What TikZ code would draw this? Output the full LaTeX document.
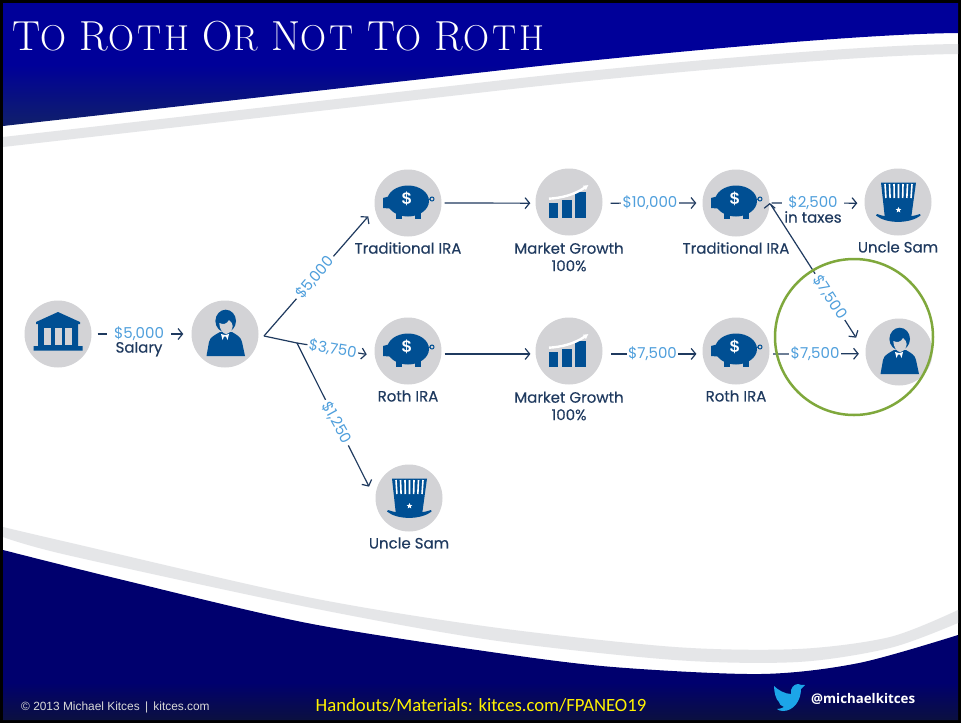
\documentclass[tikz,border=0pt]{standalone}
\usepackage{fontspec}
\setmainfont{Poppins}
\newfontfamily\captionfont{Poppins}[FakeBold=0.25]
\newfontfamily\titlefont{Latin Modern Roman}[LetterSpace=8]
\newfontfamily\arialfont{Liberation Sans}
\newfontfamily\calibrifont{Carlito}
\newfontfamily\handlefont{Open Sans}
\usetikzlibrary{arrows.meta,positioning,shapes.geometric}
\definecolor{iconblue}{HTML}{004F93}
\definecolor{discgrey}{HTML}{D3D3D6}
\definecolor{inkblue}{HTML}{1F3A5F}
\definecolor{moneyblue}{HTML}{4F9FDC}
\definecolor{bandgrey}{HTML}{E5E6E8}
\definecolor{ringgreen}{HTML}{7FA83C}
\definecolor{birdblue}{HTML}{1CA5E8}
\definecolor{topblue}{HTML}{000099}
\definecolor{topdark}{HTML}{10206A}
\definecolor{lowblue}{HTML}{00006E}
\definecolor{lowdark}{HTML}{0B1040}
\pgfdeclareverticalshading{topband}{100bp}{color(0bp)=(topdark); color(25bp)=(topdark); color(50bp)=(topblue); color(100bp)=(topblue)}
\pgfdeclareverticalshading{lowband}{100bp}{color(0bp)=(lowdark); color(25bp)=(lowdark); color(36bp)=(lowblue); color(100bp)=(lowblue)}
\newcommand{\bigcapsize}{\fontsize{42}{42}\selectfont}
\newcommand{\lowcapsize}{\fontsize{36}{36}\selectfont}
\tikzset{
    disc/.style={
    circle,fill=discgrey,minimum size=67pt,inner sep=0pt
    },
    caption/.style={
    text=inkblue,font=\captionfont\fontsize{15}{17.5}\selectfont,align=center
    },
    amount/.style={
    text=moneyblue,fill=white,font=\fontsize{15}{17}\selectfont,inner sep=1.5pt
    },
    flow/.style={
    draw=inkblue,line width=1.2pt,-{Straight Barb[length=4.5pt,width=11pt]}
    },
    plain/.style={
    draw=inkblue,line width=1.2pt
    },
    piggy/.pic={
    \fill[iconblue] (0,-2) ellipse (21 and 15.5);
    \fill[iconblue] (-25,-5) -- (-14,-8) -- (-12,6) -- (-25,5) -- cycle;
    \fill[iconblue] (-12,9) rectangle (-6,16);
    \fill[iconblue] (7,9) rectangle (13,16);
    \draw[iconblue,line width=1pt] (19,-3) -- (22,-4) (24,-4) circle (2);
    \node[text=white,font=\arialfont\bfseries\fontsize{17}{17}\selectfont] (dollar) at (-1.5,-4) {\$};
    },
    bank/.pic={
    \fill[iconblue] (0,-22) -- (22,-12) -- (22,-10) -- (20,-10) -- (20,12) -- (24.5,12) -- (24.5,16.5)
      -- (-24.5,16.5) -- (-24.5,12) -- (-20,12) -- (-20,-10) -- (-22,-10) -- (-22,-12) -- cycle;
    \foreach \wx in {-14,-3.5,7}
      \fill[discgrey] (\wx,-6.5) rectangle ++(7,17);
    },
    person/.pic={
    \fill[iconblue] (-18.5,22) -- (-16,8) .. controls (-15,3) and (-10,1) .. (-5,-2) -- (7,-2)
      .. controls (12,1) and (16,3) .. (17,8) -- (20,22) -- cycle;
    \fill[iconblue] (.7,-13) ellipse (10.3 and 11.3);
    \fill[discgrey] (-5.7,-11) .. controls (-2,-9) and (2,-10) .. (4,-14) .. controls (6,-12) and (7.7,-11) .. (7.7,-8)
      .. controls (7.7,-4) and (4,0) .. (1,0) .. controls (-2,0) and (-5.7,-5) .. (-5.7,-11);
    \fill[white] (-4,0) -- (0,1) -- (4,0) -- (2.5,6) -- (1,2.5) -- (-1,2.5) -- (-2.5,6) -- cycle;
    },
    chart/.pic={
    \fill[iconblue] (-20,1) rectangle (-11.3,16);
    \fill[iconblue] (-6.7,-2.3) rectangle (2.7,16);
    \fill[iconblue] (6,-10) rectangle (16.7,16);
    \draw[white,line width=2.4pt,-{Latex[length=5pt,width=6pt]}] (-20,-3.3) .. controls (-8,-4) and (5,-7) .. (19.5,-17);
    },
    hat/.pic={
    \fill[iconblue] (-17,-19.5) -- (18,-19.5) -- (13,17) -- (-13,17) -- cycle;
    \fill[iconblue] (-21,12) .. controls (-12,16) and (12,16) .. (22,12) -- (22.5,13.5)
      .. controls (12,22) and (-12,22) .. (-22,13.5) -- cycle;
    \foreach \sx in {-13,-8.5,-4,.5,5,9.5,14}
      \draw[white,line width=1.6pt] (\sx,-18) -- (.93*\sx,-4);
    \node[star,star points=5,star point ratio=2.3,fill=white,minimum size=6pt,inner sep=0pt] (badge) at (.5,8) {};
    },
}
\begin{document}
\begin{tikzpicture}[x=1pt,y=-1pt,on grid]
  \useasboundingbox (0,0) rectangle (961,723);
  \fill[black] (0,0) rectangle (961,723);
  \fill[white] (3,3) rectangle (958,720);
  \shade[shading=topband]
    (3,3) -- (958,3) -- (958,33) .. controls (850,34) and (621,57) .. (521,68) -- (3,126) -- cycle;
  \fill[bandgrey] (3,137) -- (521,78) .. controls (621,67) and (850,45) .. (958,44) -- (958,54)
    .. controls (850,55) and (621,77) .. (521,88) -- (3,147) -- cycle;
  \fill[bandgrey] plot[smooth] coordinates {(3,527) (67,542) (307,597) (491,627) (675,647) (798,649) (890,637) (958,610)}
    -- plot[smooth] coordinates {(958,623) (890,648) (798,662) (675,660) (491,640) (307,607) (67,555) (3,537)} -- cycle;
  \shade[shading=lowband]
    plot[smooth] coordinates {(3,550) (123,580) (307,623) (491,652) (613,667) (761,674) (859,663) (958,635)}
    -- (958,720) -- (3,720) -- cycle;

  \node[disc] (bank) at (58,334) {};
  \node[disc] (saver) at (225,334) {};
  \node[disc] (tradpig) at (408,203) {};
  \node[disc] (tradgrowth) at (569,202) {};
  \node[disc] (tradpot) at (736,203) {};
  \node[disc] (tradsam) at (898,202) {};
  \node[disc] (rothpig) at (408,351) {};
  \node[disc] (rothgrowth) at (569,351) {};
  \node[disc] (rothpot) at (736,351) {};
  \node[disc] (heir) at (899,352) {};
  \node[disc] (taxsam) at (409,498) {};

  \pic (bankicon) at (bank) {bank};
  \pic (savericon) at (saver) {person};
  \pic (tradpigicon) at (tradpig) {piggy};
  \pic (tradgrowthicon) at (tradgrowth) {chart};
  \pic (tradpoticon) at (tradpot) {piggy};
  \pic (tradsamicon) at (tradsam) {hat};
  \pic (rothpigicon) at (rothpig) {piggy};
  \pic (rothgrowthicon) at (rothgrowth) {chart};
  \pic (rothpoticon) at (rothpot) {piggy};
  \pic (heiricon) at (heir) {person};
  \pic (taxsamicon) at (taxsam) {hat};

  \node[caption,below=45pt of tradpig] (tradpiglabel) {Traditional IRA};
  \node[caption,below=55pt of tradgrowth] (tradgrowthlabel) {Market Growth\\100\%};
  \node[caption,below=45pt of tradpot] (tradpotlabel) {Traditional IRA};
  \node[caption,below=45pt of tradsam] (tradsamlabel) {Uncle Sam};
  \node[caption,below=45pt of rothpig] (rothpiglabel) {Roth IRA};
  \node[caption,below=55pt of rothgrowth] (rothgrowthlabel) {Market Growth\\100\%};
  \node[caption,below=45pt of rothpot] (rothpotlabel) {Roth IRA};
  \node[caption,below=45pt of taxsam] (taxsamlabel) {Uncle Sam};
  \node[caption] (salarylabel) at (139,349) {Salary};

  \coordinate (fork) at (264,336);
  \coordinate (forktwo) at (297,343);

  \path[flow]
    (bank) edge[shorten <=6pt,shorten >=8pt] node[amount,inner xsep=7pt,pos=.475] {\$5,000} (saver)
    (fork) edge[shorten >=10pt] node[amount,inner xsep=3pt,rotate=49,pos=.46] {\$5,000} (tradpig.190)
    (tradpig.0) edge[shorten <=3pt,shorten >=5pt] (tradgrowth.182)
    (tradgrowth.-2) edge[shorten <=8pt,shorten >=6pt] node[amount,pos=.475] {\$10,000} (tradpot.180)
    (tradpot.0) edge[shorten <=2pt,shorten >=7pt] node[amount,inner xsep=6pt,pos=.458] {\$2,500} (tradsam.182)
    (forktwo) edge[shorten >=8pt] node[amount,rotate=-10,pos=.46] {\$3,750} (rothpig.188)
    (forktwo) edge[shorten >=14pt] node[amount,inner xsep=3pt,rotate=-61,pos=.51] {\$1,250} (taxsam.182)
    (rothpig.-5) edge[shorten <=3pt,shorten >=5pt] (rothgrowth.185)
    (rothgrowth.-5) edge[shorten <=8.5pt,shorten >=6pt] node[amount] {\$7,500} (rothpot.185)
    (rothpot.-5) edge[shorten <=3.5pt,shorten >=6.5pt] node[amount,pos=.475] {\$7,500} (heir.183)
    (tradpot.0) edge[shorten <=2pt,shorten >=17pt] node[amount,inner xsep=3pt,rotate=-57,pos=.63] {\$7,500} (heir.180);
  \path[plain] (fork) edge (forktwo);
  \node[caption] (taxeslabel) at (813,217) {in taxes};

  \draw[ringgreen,line width=2.5pt] (854,337) ellipse (79 and 78);

  \node[text=white,font=\titlefont\lowcapsize,anchor=base west,inner sep=0pt] (slidetitle) at (12,50)
    {{\bigcapsize T}O {\bigcapsize R}OTH {\bigcapsize O}R {\bigcapsize N}OT {\bigcapsize T}O {\bigcapsize R}OTH};
  \node[text=white!85!black,font=\arialfont\fontsize{11.9}{12}\selectfont,anchor=base west,inner sep=0pt] (copyright) at (21,710) {© 2013 Michael Kitces \,|\, kitces.com};
  \node[text=yellow,font=\calibrifont\fontsize{18.7}{18.7}\selectfont,anchor=base] (handouts) at (481,711) {Handouts/Materials: kitces.com/FPANEO19};
  \node[text=white,font=\handlefont\bfseries\fontsize{13.3}{13.3}\selectfont,anchor=base west,inner sep=0pt] (handle) at (811,703) {@michaelkitces};
  \fill[birdblue] (805,685) -- (801,689) .. controls (801,700) and (794,711) .. (783,711)
    .. controls (780,711) and (778,710) .. (777,709) .. controls (780,709) and (782,708) .. (784,707)
    .. controls (781,706) and (779,704) .. (779,702) .. controls (776,700) and (774,692) .. (774,686)
    .. controls (778,690) and (785,694) .. (791,694) .. controls (790,688) and (794,684) .. (798,684)
    .. controls (800,684) and (802,686) .. (805,685) -- cycle;
\end{tikzpicture}
\end{document}
